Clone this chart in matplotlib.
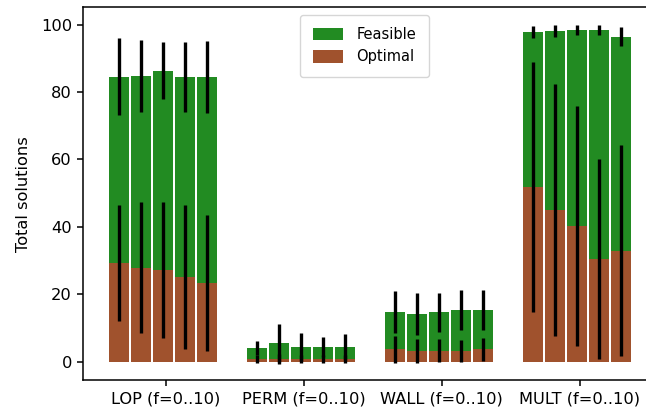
import numpy as np
import matplotlib
matplotlib.use("Agg")
import matplotlib.pyplot as plt

# ------------------------------------------------------------------
# Data (5 runs per problem family)
# ------------------------------------------------------------------
groups = ["LOP (f=0..10)", "PERM (f=0..10)", "WALL (f=0..10)", "MULT (f=0..10)"]

feasible_lop = [84.5, 84.8, 86.3, 84.5, 84.5]
feasible_perm = [4.1, 5.5, 4.4, 4.4, 4.4]
feasible_wall = [14.7, 14.1, 14.7, 15.3, 15.3]
feasible_mult = [97.8, 98.1, 98.4, 98.4, 96.4]

feasible_err_lop = [11.4, 10.7, 8.5, 10.5, 10.8]
feasible_err_perm = [2.0, 5.7, 4.1, 3.0, 3.8]
feasible_err_wall = [6.3, 6.2, 5.8, 6.0, 6.0]
feasible_err_mult = [1.9, 1.8, 1.5, 1.5, 2.8]

optimal_lop = [29.3, 27.9, 27.3, 25.1, 23.4]
optimal_perm = [0.8, 0.8, 0.8, 0.8, 0.8]
optimal_wall = [3.6, 3.2, 3.2, 3.2, 3.6]
optimal_mult = [51.8, 45.0, 40.3, 30.5, 32.9]

optimal_err_lop = [17.3, 19.4, 20.2, 21.5, 20.2]
optimal_err_perm = [1.2, 1.5, 1.2, 1.2, 1.2]
optimal_err_wall = [4.0, 3.6, 3.4, 3.2, 3.5]
optimal_err_mult = [37.1, 37.5, 35.6, 29.7, 31.3]

feasible = [feasible_lop, feasible_perm, feasible_wall, feasible_mult]
feasible_err = [feasible_err_lop, feasible_err_perm, feasible_err_wall, feasible_err_mult]
optimal = [optimal_lop, optimal_perm, optimal_wall, optimal_mult]
optimal_err = [optimal_err_lop, optimal_err_perm, optimal_err_wall, optimal_err_mult]

GREEN = "#228B22"
BROWN = "#A0522D"
STEP = 0.16
WIDTH = 0.145
FS = 11.7

fig = plt.figure(figsize=(6.46, 4.12), dpi=100)
ax = fig.add_axes([0.1285, 0.0765, 0.8715, 0.9053])

n_runs = len(feasible_lop)
for i in range(len(groups)):
    xs = i + (np.arange(n_runs) - (n_runs - 1) / 2) * STEP
    ax.bar(xs, feasible[i], WIDTH, color=GREEN,
           label="Feasible" if i == 0 else None)
    ax.bar(xs, optimal[i], WIDTH, color=BROWN,
           label="Optimal" if i == 0 else None)
    ax.errorbar(xs, feasible[i], yerr=feasible_err[i], fmt="none",
                ecolor="black", elinewidth=2.4, capsize=0)
    ax.errorbar(xs, optimal[i], yerr=optimal_err[i], fmt="none",
                ecolor="black", elinewidth=2.4, capsize=0)

ax.set_xticks(np.arange(len(groups)) + 0.02)
ax.set_xticklabels(groups, fontsize=FS)
ax.set_xlim(-0.58, 3.50)
ax.set_ylim(-5.6, 105.1)
ax.set_yticks([0, 20, 40, 60, 80, 100])
ax.tick_params(labelsize=FS, width=1.1, length=4.5)
for side in ["left", "bottom", "top"]:
    ax.spines[side].set_linewidth(1.1)
ax.spines["right"].set_visible(False)
ax.set_ylabel("Total solutions", fontsize=FS, labelpad=7)
ax.legend(loc="upper center", fontsize=10.5, borderpad=0.85,
          handlelength=2.1, handleheight=0.95, handletextpad=0.9,
          labelspacing=0.5, borderaxespad=0.5)

fig.savefig("out.png", dpi=100)
